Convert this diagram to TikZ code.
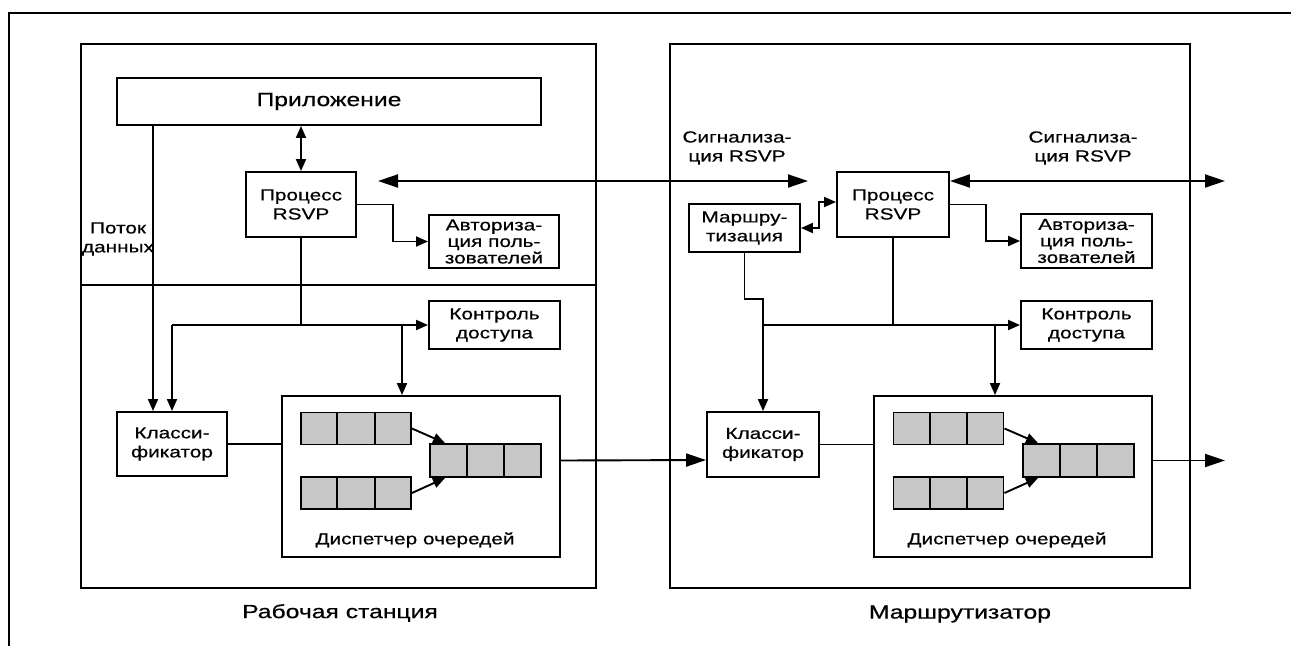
\documentclass[tikz,border=0pt]{standalone}
\usepackage{fontspec}
\setmainfont{Liberation Sans}[FakeStretch=1.3,FakeBold=0.5]
\usetikzlibrary{arrows.meta,calc}
\begin{document}
\begin{tikzpicture}[x=1pt,y=-1pt,
  ln/.style={line width=1.9pt, line join=miter},
  blk/.style={draw, line width=1.9pt, inner sep=0pt, align=center,
    font=\fontsize{16}{19}\selectfont},
  frm/.style={draw, line width=1.9pt, inner sep=0pt},
  que/.style={draw, line width=1.9pt, fill=black!22, inner sep=0pt, minimum width=110pt, minimum height=32pt},
  arr/.style={ln, -{Triangle[length=12pt,width=10pt]}},
  arrb/.style={ln, {Triangle[length=12pt,width=10pt]}-{Triangle[length=12pt,width=10pt]}},
  sig/.style={ln, {Triangle[length=20pt,width=13pt]}-{Triangle[length=20pt,width=13pt]}},
  sigr/.style={ln, -{Triangle[length=20pt,width=13pt]}},
  lbl/.style={align=center, inner sep=0pt, font=\fontsize{16}{19}\selectfont},
  big/.style={inner sep=0pt, font=\fontsize{19}{22}\selectfont}
]
\useasboundingbox (0,0) rectangle (1291,646);
% outer frame
\draw[ln] (9,646) -- (9,13) -- (1291,13);

% station boxes
\node[frm, minimum width=515pt, minimum height=544pt] (ws) at (338.5,316) {};
\node[frm, minimum width=520pt, minimum height=544pt] (rt) at (930,316) {};
\draw[ln] ([yshift=31pt]ws.west) -- ([yshift=31pt]ws.east);

% ---------- workstation ----------
\node[blk, minimum width=424pt, minimum height=47pt, font=\fontsize{19}{22}\selectfont] (app) at (329,101.5) {Приложение};
\node[blk, minimum width=110pt, minimum height=65pt] (rsvp1) at (301,204.5) {Процесс\\RSVP};
\node[blk, minimum width=130pt, minimum height=53pt, font=\fontsize{16}{16.5}\selectfont] (auth1) at (494,241.5) {Авториза-\\ция поль-\\зователей};
\node[blk, minimum width=131pt, minimum height=48pt] (adm1) at (494.5,325) {Контроль\\доступа};
\node[blk, minimum width=110pt, minimum height=64pt] (cls1) at (172,444) {Класси-\\фикатор};
\node[blk, minimum width=278pt, minimum height=161pt] (disp1) at (421,476.5) {};
\node[que] (q1a) at (356,428.5) {};
\node[que] (q1b) at (356,493) {};
\node[que, minimum width=111pt, minimum height=33pt] (q1c) at (485.5,460.5) {};
\node[lbl] (dl1) at (415,540) {Диспетчер очередей};
\node[lbl] (flow) at (118,239) {Поток\\данных};

% ---------- router ----------
\node[blk, minimum width=112pt, minimum height=65pt] (rsvp2) at (893,204.5) {Процесс\\RSVP};
\node[blk, minimum width=111pt, minimum height=48pt] (route) at (744.5,228) {Маршру-\\тизация};
\node[blk, minimum width=131pt, minimum height=54pt, font=\fontsize{16}{16.5}\selectfont] (auth2) at (1086.5,241) {Авториза-\\ция поль-\\зователей};
\node[blk, minimum width=131pt, minimum height=48pt] (adm2) at (1086.5,325) {Контроль\\доступа};
\node[blk, minimum width=112pt, minimum height=65pt] (cls2) at (763,444.5) {Класси-\\фикатор};
\node[blk, minimum width=278pt, minimum height=161pt] (disp2) at (1013,476.5) {};
\node[que] (q2a) at (948.5,428.5) {};
\node[que] (q2b) at (948.5,493) {};
\node[que, minimum width=111pt, minimum height=33pt] (q2c) at (1078.5,460.5) {};
\node[lbl] (dl2) at (1007,540) {Диспетчер очередей};

\node[lbl] (sg1) at (737,148) {Сигнализа-\\ция RSVP};
\node[lbl] (sg2) at (1083,148) {Сигнализа-\\ция RSVP};

\node[big] (lws) at (340,613) {Рабочая станция};
\node[big] (lrt) at (960,614) {Маршрутизатор};

% queue dividers
\foreach \q in {q1a,q1b,q1c,q2a,q2b,q2c}{
  \draw[ln] ($(\q.north west)!1/3!(\q.north east)$) -- ($(\q.south west)!1/3!(\q.south east)$);
  \draw[ln] ($(\q.north west)!2/3!(\q.north east)$) -- ($(\q.south west)!2/3!(\q.south east)$);
}

% coordinates for free ends
\coordinate (s1a) at (378,181);
\coordinate (s1b) at (808,181);
\coordinate (s2b) at (1225,181);
\coordinate (out2) at (1225,460.5);

% ---------- connectors: workstation ----------
\draw[arrb] (rsvp1.north |- app.south) -- (rsvp1.north);
\draw[arr] ([xshift=-19pt]cls1.north |- app.south) -- ([xshift=-19pt]cls1.north);
\draw[arr] (rsvp1.east) -- ++(36,0) |- (auth1.west);
\draw[ln] (rsvp1.south) -- (rsvp1.south |- adm1.west);
\draw[arr] (cls1.north |- adm1.west) -- (adm1.west);
\draw[arr] (cls1.north |- adm1.west) -- (cls1.north);
\draw[arr] ([xshift=-19pt]disp1.north |- adm1.west) -- ([xshift=-19pt]disp1.north);
\draw[ln] (cls1.east) -- (cls1.east -| disp1.west);
\draw[arr] (q1a.east) -- ([xshift=16pt]q1c.north west);
\draw[arr] (q1b.east) -- ([xshift=16pt]q1c.south west);

% signalling
\draw[sig] (s1a) -- (s1b);
\draw[sig] ([yshift=23.5pt]rsvp2.east) -- (s2b);

% data path
\draw[sigr] ([yshift=16pt]disp1.east) -- ([yshift=-15.5pt]cls2.west);
\draw[sigr] ([yshift=16pt]disp2.east) -- (out2);

% ---------- connectors: router ----------
\draw[arrb] (route.east) -- ++(18,0) |- ([yshift=2.5pt]rsvp2.west);
\draw[arr] (rsvp2.east) -- ++(36,0) |- (auth2.west);
\draw[arr] (route.south) -- ++(0,46) -| (cls2.north);
\draw[arr] (cls2.north |- adm2.west) -- (adm2.west);
\draw[ln] (rsvp2.south) -- (rsvp2.south |- adm2.west);
\draw[arr] ([xshift=-18pt]disp2.north |- adm2.west) -- ([xshift=-18pt]disp2.north);
\draw[ln] (cls2.east) -- (cls2.east -| disp2.west);
\draw[arr] (q2a.east) -- ([xshift=16pt]q2c.north west);
\draw[arr] (q2b.east) -- ([xshift=16pt]q2c.south west);
\end{tikzpicture}
\end{document}
